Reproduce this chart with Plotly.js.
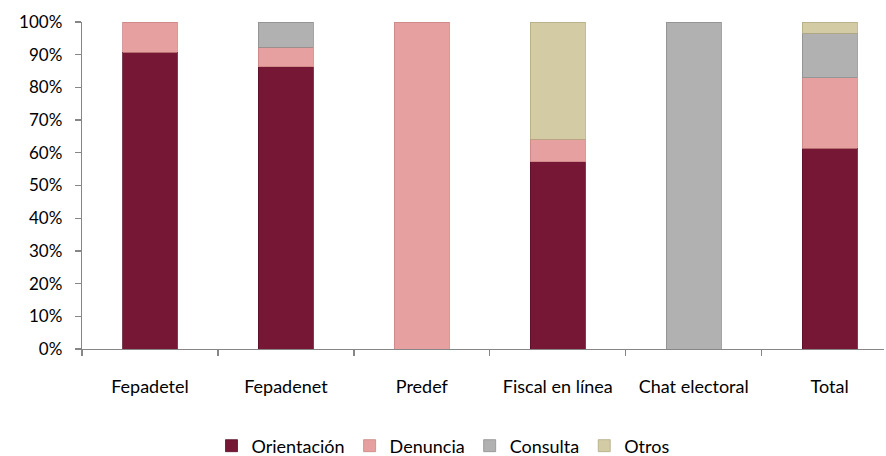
<!DOCTYPE html>
<html>
<head>
<meta charset="utf-8">
<script src="https://cdn.plot.ly/plotly-3.0.1.min.js"></script>
<style>html,body{margin:0;padding:0;background:#fff;}#chart{width:886px;height:456px;}</style>
</head>
<body>
<div id="chart"></div>
<script>
const categories = ["Fepadetel", "Fepadenet", "Predef", "Fiscal en línea", "Chat electoral", "Total"];
const orientacion = [0.907, 0.863, 0.0, 0.573, 0.0, 0.614];
const denuncia    = [0.093, 0.060, 1.0, 0.068, 0.0, 0.216];
const consulta    = [0.0,   0.077, 0.0, 0.0,   1.0, 0.135];
const otros       = [0.0,   0.0,   0.0, 0.359, 0.0, 0.035];
const seriesNames = ["Orientación", "Denuncia", "Consulta", "Otros"];
const seriesColors = ["#751735", "#E6A09F", "#B1B1B1", "#D3CBA3"];
const lineColors = ["#5a0f28", "#c98583", "#8f8f8f", "#b3ab85"];
const seriesValues = [orientacion, denuncia, consulta, otros];

const font = "Lato, 'Noto Sans', sans-serif";
const traces = seriesValues.map((vals, i) => ({
  type: "bar",
  name: seriesNames[i],
  x: categories,
  y: vals.map(v => (v === 0 ? null : v)),
  width: 0.404,
  marker: { color: seriesColors[i], line: { color: lineColors[i], width: 0.8 } },
  hoverinfo: "x+y+name"
}));

const layout = {
  width: 886,
  height: 456,
  barmode: "stack",
  paper_bgcolor: "#ffffff",
  plot_bgcolor: "#ffffff",
  margin: { l: 82, r: 2, t: 22, b: 107 },
  font: { family: font, size: 18, color: "#000000" },
  showlegend: true,
  legend: {
    orientation: "h",
    xref: "container",
    yref: "container",
    x: 0.5,
    xanchor: "center",
    y: 0.022,
    yanchor: "middle",
    font: { family: font, size: 18, color: "#000" },
    itemwidth: 30,
    traceorder: "normal"
  },
  xaxis: {
    type: "category",
    range: [-0.5, 5.4],
    showline: true,
    linecolor: "#868686",
    linewidth: 1.3,
    ticks: "outside",
    tickson: "boundaries",
    ticklen: 6,
    tickcolor: "#868686",
    tickwidth: 1.3,
    showgrid: false,
    zeroline: false,
    ticklabelstandoff: 21,
    tickangle: 0,
    tickfont: { family: font, size: 18, color: "#000" }
  },
  yaxis: {
    range: [0, 1],
    dtick: 0.1,
    tick0: 0,
    tickformat: ".0%",
    showline: true,
    linecolor: "#868686",
    linewidth: 1.3,
    ticks: "outside",
    ticklen: 6,
    tickcolor: "#868686",
    tickwidth: 1.3,
    showgrid: false,
    zeroline: false,
    ticklabelposition: "outside",
    ticklabelstandoff: 9,
    tickfont: { family: font, size: 17, color: "#000" }
  }
};

Plotly.newPlot("chart", traces, layout, { displayModeBar: false, staticPlot: true });
</script>
</body>
</html>
